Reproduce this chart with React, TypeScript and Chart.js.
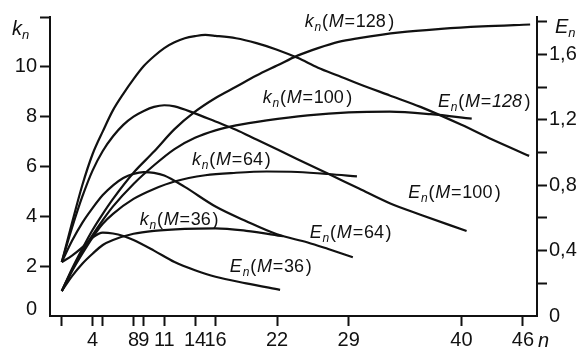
import React, { useEffect, useRef } from 'react';
import { Chart, registerables } from 'chart.js';

Chart.register(...registerables);

// ---- axes ----
const xTicks = [1, 4, 5, 8, 9, 11, 14, 16, 22, 29, 40, 46];
const xTickLabels = ['', '4', '', '8', '9', '11', '14', '16', '22', '29', '40', '46'];
const kTicks = [0, 2, 4, 6, 8, 10, 12];
const kTickLabels = ['', '2', '4', '6', '8', '10', ''];
const eTicks = [0, 0.2, 0.4, 0.6, 0.8, 1.0, 1.2, 1.4, 1.6, 1.8];
const eTickLabels = ['0', '', '0,4', '', '0,8', '', '1,2', '', '1,6', ''];

// ---- k_n curves (left axis) ----
const k36N = [1, 2, 3, 4, 5, 6, 8, 10, 13, 16, 19, 22.6];
const k36 = [1.0, 1.6, 2.1, 2.5, 2.85, 3.05, 3.3, 3.42, 3.5, 3.52, 3.42, 3.2];
const k64N = [1, 2, 3, 4, 5, 6, 8, 10, 12, 15, 18, 21, 24, 27, 29.8];
const k64 = [1.0, 1.8, 2.5, 3.15, 3.7, 4.1, 4.7, 5.1, 5.4, 5.65, 5.75, 5.8, 5.78, 5.7, 5.6];
const k100N = [1, 2, 3, 4, 5, 6, 8, 10, 12, 14, 16, 18, 21, 25, 29, 33, 37, 41];
const k100 = [1.0, 1.85, 2.6, 3.25, 3.85, 4.4, 5.3, 6.05, 6.7, 7.15, 7.45, 7.65, 7.85, 8.05, 8.17, 8.2, 8.1, 7.92];
const k128N = [1, 2, 3, 4, 5, 6, 8, 10, 12, 14, 16, 18, 20, 22, 24, 26, 28, 30, 34, 38, 42, 46.7];
const k128 = [1.0, 1.9, 2.7, 3.45, 4.1, 4.7, 5.75, 6.6, 7.5, 8.2, 8.75, 9.2, 9.65, 10.05, 10.45, 10.75, 11.0, 11.15, 11.38, 11.52, 11.62, 11.7];

// ---- E_n curves (right axis) ----
const e36N = [1, 2, 3, 4, 5, 6, 7, 8, 10, 12, 14, 16, 19, 22.3];
const e36 = [0.33, 0.37, 0.42, 0.48, 0.51, 0.505, 0.49, 0.465, 0.4, 0.33, 0.28, 0.24, 0.2, 0.16];
const e64N = [1, 2, 3, 4, 5, 6, 7, 8, 9, 10, 11, 13, 16, 19, 22, 25, 27, 29.4];
const e64 = [0.33, 0.46, 0.57, 0.66, 0.74, 0.8, 0.845, 0.87, 0.88, 0.876, 0.86, 0.79, 0.67, 0.58, 0.5, 0.45, 0.41, 0.36];
const e100N = [1, 2, 3, 4, 5, 6, 7, 8, 9, 10, 11, 12, 14, 16, 18, 20, 22, 24, 27, 30, 33, 36, 40.5];
const e100 = [0.33, 0.54, 0.73, 0.89, 1.01, 1.1, 1.17, 1.22, 1.255, 1.28, 1.29, 1.283, 1.24, 1.19, 1.14, 1.08, 1.02, 0.96, 0.87, 0.78, 0.69, 0.62, 0.52];
const e128N = [1, 2, 3, 4, 5, 6, 7, 8, 9, 10, 11, 12, 13, 14, 15, 16, 18, 20, 22, 24, 26, 28, 30, 33, 36, 40, 43, 46.6];
const e128 = [0.33, 0.57, 0.8, 0.99, 1.13, 1.26, 1.36, 1.45, 1.53, 1.59, 1.64, 1.675, 1.7, 1.713, 1.72, 1.715, 1.7, 1.67, 1.63, 1.58, 1.52, 1.47, 1.42, 1.35, 1.28, 1.17, 1.08, 0.98];

// ---- curve labels: symbol, M, anchor (n, k on left axis) ----
const labelSyms = ['k', 'k', 'k', 'k', 'E', 'E', 'E', 'E'];
const labelMs = ['128', '100', '64', '36', '36', '64', '100', '128'];
const labelN = [24.7, 20.6, 13.7, 8.6, 17.4, 25.2, 34.8, 37.7];
const labelK = [11.6, 8.55, 6.06, 3.65, 1.77, 3.13, 4.74, 8.39];

const INK = '#111';
const FAM = '"Liberation Sans", Arial, sans-serif';

const pts = (ns: number[], vs: number[]) => ns.map((n, i) => ({ x: n, y: vs[i] }));

function drawParts(ctx: CanvasRenderingContext2D, x: number, y: number, parts: { t: string; f: string; dy: number }[], gap: number) {
  let cx = x;
  for (const p of parts) {
    ctx.font = p.f;
    ctx.fillText(p.t, cx, y + p.dy);
    cx += ctx.measureText(p.t).width + gap * p.t.length;
  }
}

const textPlugin = {
  id: 'textPlugin',
  afterDraw(chart: any) {
    const ctx: CanvasRenderingContext2D = chart.ctx;
    const xs = chart.scales.x;
    const yk = chart.scales.yk;
    const yE = chart.scales.yE;
    const area = chart.chartArea;
    ctx.save();
    ctx.fillStyle = INK;
    ctx.textAlign = 'left';
    ctx.textBaseline = 'alphabetic';
    const big = `18px ${FAM}`;
    const bigI = `italic 18px ${FAM}`;
    const sub = `italic 12px ${FAM}`;
    for (let i = 0; i < labelSyms.length; i++) {
      const px = xs.getPixelForValue(labelN[i]);
      const py = yk.getPixelForValue(labelK[i]);
      const italicDigits = labelSyms[i] === 'E' && labelMs[i] === '128';
      drawParts(ctx, px, py, [
        { t: labelSyms[i], f: bigI, dy: 0 },
        { t: 'n', f: sub, dy: 4 },
        { t: '(', f: big, dy: 0 },
        { t: 'M', f: bigI, dy: 0 },
        { t: '=', f: big, dy: 0 },
        { t: labelMs[i], f: italicDigits ? bigI : big, dy: 0 },
        { t: ')', f: big, dy: 0 },
      ], 0.8);
    }
    // axis titles
    const axI = `italic 20px ${FAM}`;
    const axSub = `italic 13px ${FAM}`;
    drawParts(ctx, area.left - 38, yk.getPixelForValue(12) + 18, [
      { t: 'k', f: axI, dy: 0 },
      { t: 'n', f: axSub, dy: 4 },
    ], 0);
    drawParts(ctx, area.right + 18, yE.getPixelForValue(1.8) + 11, [
      { t: 'E', f: axI, dy: 0 },
      { t: 'n', f: axSub, dy: 4 },
    ], 0);
    ctx.font = axI;
    ctx.fillText('n', area.right + 1, area.bottom + 31);
    ctx.font = `20px ${FAM}`;
    ctx.textAlign = 'right';
    ctx.fillText('0', area.left - 13, area.bottom - 1);
    ctx.restore();
  },
};

const lineDs = (data: { x: number; y: number }[], axis: string) => ({
  data,
  yAxisID: axis,
  borderColor: INK,
  borderWidth: 2.2,
  pointRadius: 0,
  fill: false,
  cubicInterpolationMode: 'monotone' as const,
});

export default function App() {
  const ref = useRef<HTMLCanvasElement | null>(null);
  useEffect(() => {
    document.body.style.margin = '0';
    const canvas = ref.current;
    if (!canvas) return;
    const tickFont = { family: FAM, size: 20 };
    const chart = new Chart(canvas, {
      type: 'line',
      data: {
        datasets: [
          lineDs(pts(k36N, k36), 'yk'),
          lineDs(pts(k64N, k64), 'yk'),
          lineDs(pts(k100N, k100), 'yk'),
          lineDs(pts(k128N, k128), 'yk'),
          lineDs(pts(e36N, e36), 'yE'),
          lineDs(pts(e64N, e64), 'yE'),
          lineDs(pts(e100N, e100), 'yE'),
          lineDs(pts(e128N, e128), 'yE'),
        ],
      },
      options: {
        responsive: false,
        animation: false,
        devicePixelRatio: 1,
        layout: { padding: { top: 17, left: 0, right: 0, bottom: 0 } },
        plugins: { legend: { display: false }, tooltip: { enabled: false } },
        scales: {
          x: {
            type: 'linear',
            min: -0.15,
            max: 47.37,
            afterBuildTicks: (s: any) => { s.ticks = xTicks.map((v) => ({ value: v })); },
            afterFit: (s: any) => { s.height = 35; },
            ticks: {
              autoSkip: false, maxRotation: 0, minRotation: 0, padding: 2,
              color: INK, font: tickFont,
              callback: (_v: any, i: number) => xTickLabels[i],
            },
            grid: { drawOnChartArea: false, drawTicks: true, tickLength: 10, tickWidth: 2, tickColor: INK },
            border: { display: true, color: INK, width: 2 },
          },
          yk: {
            type: 'linear',
            position: 'left',
            min: 0,
            max: 12,
            afterBuildTicks: (s: any) => { s.ticks = kTicks.map((v) => ({ value: v })); },
            afterFit: (s: any) => { s.width = 50; },
            ticks: {
              padding: 3, color: INK, font: tickFont,
              callback: (_v: any, i: number) => kTickLabels[i],
            },
            grid: {
              drawOnChartArea: false, tickLength: 10, tickWidth: 2,
              tickColor: (c: any) => (c.tick && c.tick.value === 0 ? 'rgba(0,0,0,0)' : INK),
            },
            border: { display: true, color: INK, width: 2 },
          },
          yE: {
            type: 'linear',
            position: 'right',
            min: 0,
            max: 1.83,
            afterBuildTicks: (s: any) => { s.ticks = eTicks.map((v) => ({ value: v })); },
            afterFit: (s: any) => { s.width = 47; },
            ticks: {
              padding: 2, color: INK, font: tickFont,
              callback: (_v: any, i: number) => eTickLabels[i],
            },
            grid: {
              drawOnChartArea: false, tickLength: 10, tickWidth: 2,
              tickColor: (c: any) => (c.tick && c.tick.value === 0 ? 'rgba(0,0,0,0)' : INK),
            },
            border: { display: true, color: INK, width: 2 },
          },
        },
      } as any,
      plugins: [textPlugin],
    });
    return () => chart.destroy();
  }, []);
  return <canvas ref={ref} width={584} height={351} style={{ display: 'block' }} />;
}
